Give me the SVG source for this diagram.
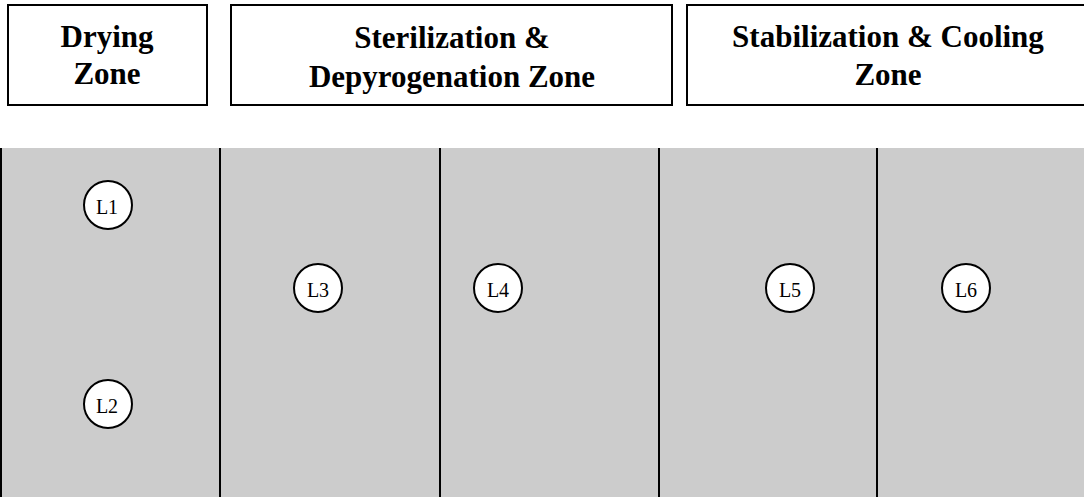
<svg xmlns="http://www.w3.org/2000/svg" width="1084" height="497" viewBox="0 0 1084 497">
<style>
.hdr{fill:#fff;stroke:#000;stroke-width:2}
.ht{font-family:"Liberation Serif",serif;font-weight:bold;font-size:31px;text-anchor:middle;fill:#000}
.div{stroke:#000;stroke-width:2}
.c{fill:#fff;stroke:#000;stroke-width:2}
.ct{font-family:"Liberation Serif",serif;font-size:20px;text-anchor:middle;fill:#000}
</style>
<rect width="1084" height="497" fill="#fff"/>
<g id="zone-drying"><rect class="hdr" x="8" y="5" width="199" height="100"/><text class="ht" x="107" y="47">Drying</text><text class="ht" x="107" y="84">Zone</text></g>
<g id="zone-sterilization"><rect class="hdr" x="231" y="5" width="441" height="100"/><text class="ht" x="452" y="48">Sterilization &amp;</text><text class="ht" x="452" y="87">Depyrogenation Zone</text></g>
<g id="zone-stabilization"><rect class="hdr" x="687" y="5" width="410" height="100"/><text class="ht" x="888" y="47">Stabilization &amp; Cooling</text><text class="ht" x="888" y="85">Zone</text></g>
<g id="tunnel">
<rect x="0" y="148" width="1084" height="349" fill="#cccccc"/>
<line class="div" x1="1" y1="148" x2="1" y2="497"/>
<line class="div" x1="220" y1="148" x2="220" y2="497"/>
<line class="div" x1="440" y1="148" x2="440" y2="497"/>
<line class="div" x1="659" y1="148" x2="659" y2="497"/>
<line class="div" x1="877" y1="148" x2="877" y2="497"/>
</g>
<g id="connectors"></g>
<g id="L1"><circle class="c" cx="108" cy="205" r="24"/><text class="ct" x="107" y="214">L1</text></g>
<g id="L2"><circle class="c" cx="108" cy="404" r="24"/><text class="ct" x="107" y="413">L2</text></g>
<g id="L3"><circle class="c" cx="318" cy="288" r="24"/><text class="ct" x="318" y="297">L3</text></g>
<g id="L4"><circle class="c" cx="498" cy="288" r="24"/><text class="ct" x="498" y="297">L4</text></g>
<g id="L5"><circle class="c" cx="790" cy="288" r="24"/><text class="ct" x="790" y="297">L5</text></g>
<g id="L6"><circle class="c" cx="966" cy="288" r="24"/><text class="ct" x="966" y="297">L6</text></g>
</svg>
